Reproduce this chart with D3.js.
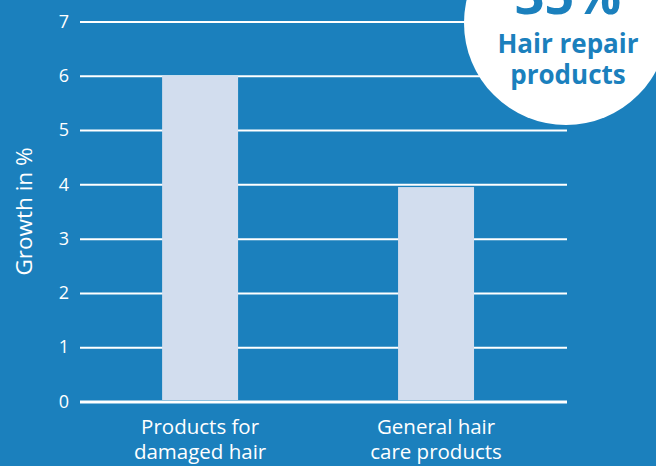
<!DOCTYPE html>
<html>
<head>
<meta charset="utf-8">
<script src="https://cdn.jsdelivr.net/npm/d3@7"></script>
<style>
  html, body { margin: 0; padding: 0; background: #1b80bd; }
  svg { display: block; }
  text { font-family: "Open Sans", sans-serif; }
</style>
</head>
<body>
<svg id="chart" width="656" height="466"></svg>
<script>
// Data
const categories = [["Products for", "damaged hair"], ["General hair", "care products"]];
const categoryKeys = ["damaged", "general"];
const growth = [6.0, 3.95];
const yTicks = [0, 1, 2, 3, 4, 5, 6, 7];
const yLabel = "Growth in %";
const badgeValue = "35%";
const badgeLines = ["Hair repair", "products"];

const W = 656, H = 466;
const bg = "#1b80bd";
const barColor = "#d2ddee";

const svg = d3.select("#chart");
svg.append("rect").attr("width", W).attr("height", H).attr("fill", bg);

const x = d3.scaleBand().domain(categoryKeys).range([80, 567])
  .paddingInner(0.678).paddingOuter(0.371).align(0.469);
const y = d3.scaleLinear().domain([0, 7]).range([401.5, 21.5]);

// gridlines + tick labels via axis
const axis = d3.axisLeft(y).tickValues(yTicks).tickSize(-(567 - 80)).tickPadding(11)
  .tickFormat(d3.format("d"));
const g = svg.append("g").attr("transform", "translate(80,0)").call(axis);
g.select(".domain").remove();
g.selectAll(".tick line").attr("stroke", "#ffffff").attr("stroke-width", 2);
g.selectAll(".tick text").attr("fill", "#ffffff").attr("font-size", 18)
  .attr("font-family", "'Open Sans', sans-serif").attr("font-weight", 500);
g.selectAll(".tick").filter(d => d === 0).select("line").attr("stroke-width", 3);

// bars
svg.append("g").selectAll("rect").data(growth).join("rect")
  .attr("x", (d, i) => x(categoryKeys[i]))
  .attr("width", x.bandwidth())
  .attr("y", d => y(d))
  .attr("height", d => y(0) - y(d) - 1.5)
  .attr("fill", barColor);

// x labels (one text per line)
const lines = [];
categories.forEach((c, i) => c.forEach((t, j) => lines.push({ key: categoryKeys[i], t, j })));
svg.append("g").selectAll("text").data(lines).join("text")
  .attr("x", d => x(d.key) + x.bandwidth() / 2)
  .attr("y", d => 434 + d.j * 25)
  .attr("text-anchor", "middle")
  .attr("fill", "#ffffff")
  .attr("font-size", 20.5)
  .attr("font-weight", 500)
  .text(d => d.t);

// y label
svg.append("text")
  .attr("transform", `translate(32,${(y(0) + y(7)) / 2}) rotate(-90)`)
  .attr("text-anchor", "middle")
  .attr("fill", "#ffffff")
  .attr("font-size", 22.5)
  .attr("font-weight", 500)
  .text(yLabel);

// badge
const badge = svg.append("g");
badge.append("circle").attr("cx", 566).attr("cy", 23).attr("r", 102).attr("fill", "#ffffff");
badge.append("text").attr("x", 568).attr("y", 14).attr("text-anchor", "middle")
  .attr("fill", bg).attr("font-size", 52).attr("font-weight", 700).text(badgeValue);
badge.selectAll("text.l").data(badgeLines).join("text").attr("class", "l")
  .attr("x", 568).attr("y", (d, i) => 52.5 + i * 31)
  .attr("text-anchor", "middle")
  .attr("fill", bg).attr("font-size", 26).attr("font-weight", 700).text(d => d);
</script>
</body>
</html>
